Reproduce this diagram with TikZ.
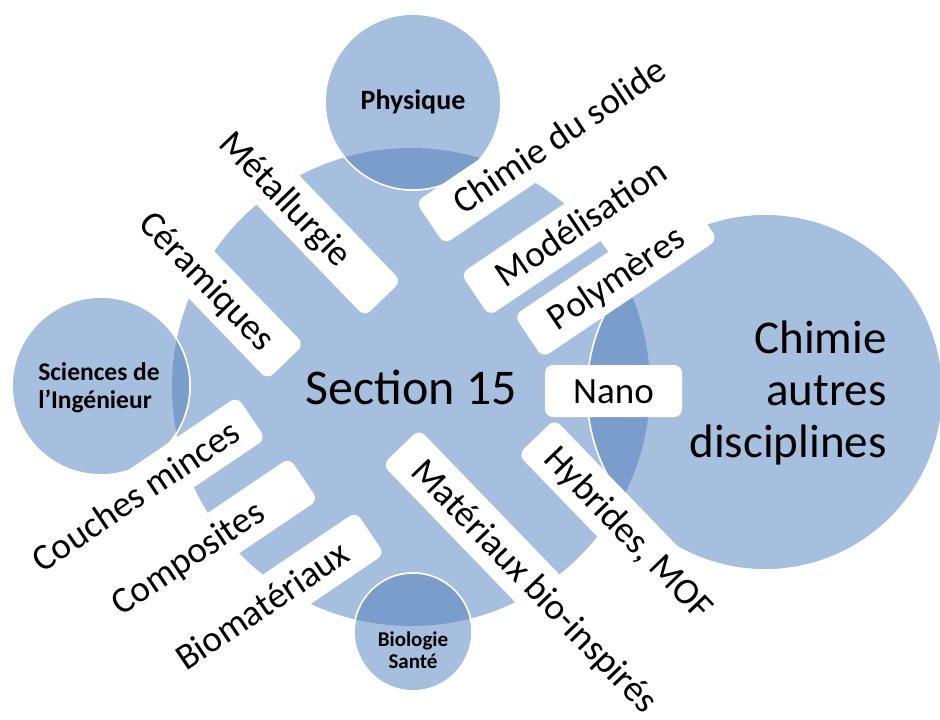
\documentclass[tikz,border=0pt]{standalone}
\usepackage{fontspec}
\setmainfont{Carlito}
\definecolor{circblue}{RGB}{167,191,222}
\definecolor{lensblue}{RGB}{122,157,203}

\begin{document}
\begin{tikzpicture}
[
x=1pt, y=-1pt,
maincircle/.style={circle, fill=circblue, minimum size=478pt, inner sep=0},
sidecircle/.style={circle, fill=circblue, draw=white, line width=1.5pt, inner sep=0},
labelbox/.style={fill=white, rounded corners=8pt, minimum height=51pt, inner sep=0, text height=28pt, text depth=4pt, font=\fontsize{37}{40}\selectfont},
circletext/.style={font=\bfseries\fontsize{25.5}{28}\selectfont, align=center}
]
\useasboundingbox (0,0) rectangle (940,720);
%Circles
\node[maincircle] at(411,387)		(sec) {};
\node[sidecircle, minimum size=176pt] at(413,102)	(phys) {};
\node[sidecircle, minimum size=178pt] at(101,386)	(sci) {};
\node[sidecircle, minimum size=118pt] at(413,632)	(bio) {};
\node[sidecircle, minimum size=356pt] at(765,392)	(chim) {};
%Overlaps
\begin{scope}
\clip (sec.center) circle[radius=239pt];
\fill[lensblue] (phys.center) circle[radius=88pt];
\fill[lensblue] (sci.center) circle[radius=89pt];
\fill[lensblue] (bio.center) circle[radius=59pt];
\fill[lensblue] (chim.center) circle[radius=178pt];
\end{scope}
\draw[white, line width=1.5pt] (phys.center) circle[radius=88pt];
\draw[white, line width=1.5pt] (sci.center) circle[radius=89pt];
\draw[white, line width=1.5pt] (bio.center) circle[radius=59pt];
\draw[white, line width=1.5pt] (chim.center) circle[radius=178pt];
%Texts
\node[font=\fontsize{50}{55}\selectfont]		(sectext) at(411,387) {Section 15};
\node[circletext, font=\bfseries\fontsize{28}{30}\selectfont]		(phystext) at(413,102) {Physique};
\node[circletext, align=left]		(scitext) at(99,388) {Sciences de\\l’Ingénieur};
\node[circletext, font=\bfseries\fontsize{21}{22}\selectfont]		(biotext) at(413,650) {Biologie\\Santé};
\node[font=\fontsize{47}{52}\selectfont, align=right]		(chimtext) at(788,393) {Chimie\\autres\\disciplines};
%Boxes
\node[labelbox, rotate=-46, minimum width=278pt] at(286.4,198.8)	(metal) {Métallurgie};
\node[labelbox, rotate=-46, minimum width=225pt] at(207.6,281.1)	(ceram) {Céramiques};
\node[labelbox, rotate=34, minimum width=312pt] at(559.4,135.9)	(solide) {Chimie du solide};
\node[labelbox, rotate=34, minimum width=256pt] at(581.1,223.2)	(model) {Modélisation};
\node[labelbox, rotate=34, minimum width=211pt] at(615.9,277.6)	(poly) {Polymères};
\node[labelbox, minimum width=137pt, minimum height=52pt] at(613.5,391)	(nano) {Nano};
\node[labelbox, rotate=-46, minimum width=266pt] at(628.8,532.5)	(hybr) {Hybrides, MOF};
\node[labelbox, rotate=-46, minimum width=386pt] at(534.9,585.8)	(bioinsp) {Matériaux bio-inspirés};
\node[labelbox, rotate=34, minimum width=279pt] at(135.8,495.7)	(couches) {Couches minces};
\node[labelbox, rotate=34, minimum width=280pt] at(187.7,557.2)	(compo) {Composites};
\node[labelbox, rotate=34, minimum width=260pt] at(262.5,605.6)	(biomat) {Biomatériaux};
\end{tikzpicture}
\end{document}
